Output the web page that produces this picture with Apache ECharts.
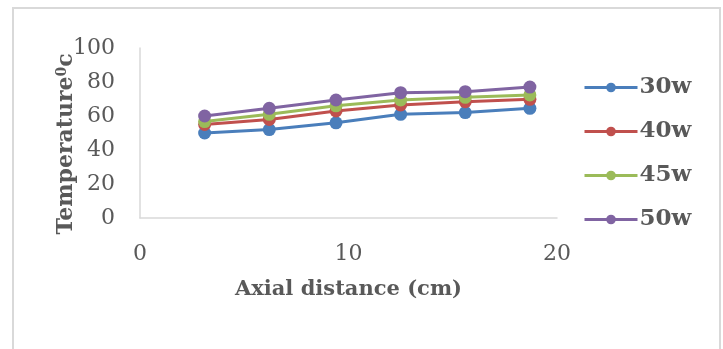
<!DOCTYPE html>
<html>
<head>
<meta charset="utf-8">
<script src="https://cdn.jsdelivr.net/npm/echarts@6/dist/echarts.min.js"></script>
<style>
html,body{margin:0;padding:0;background:#fff;}
#chart{width:723px;height:349px;}
</style>
</head>
<body>
<div id="chart"></div>
<script>
const xValues = [3.1, 6.2, 9.4, 12.5, 15.6, 18.7];
const seriesNames = ['30w', '40w', '45w', '50w'];
const s30 = [50, 52, 56, 61, 62, 64.5];
const s40 = [55, 58, 63, 66.5, 68.4, 69.8];
const s45 = [56.7, 61, 66, 69.4, 71, 72.4];
const s50 = [60, 64.5, 69.4, 73.7, 74.3, 77];
const colors = ['#4A7EBB', '#C0504D', '#9BBB59', '#8064A2'];
const xTitle = 'Axial distance (cm)';
const yTitle = 'Temperature';

const allData = [s30, s40, s45, s50];
const chart = echarts.init(document.getElementById('chart'));
const serif = 'DejaVu Serif';

chart.setOption({
  animation: false,
  backgroundColor: '#fff',
  grid: { left: 140, right: 166, top: 48, bottom: 131 },
  legend: {
    orient: 'vertical',
    left: 578,
    top: 71,
    itemGap: 21,
    itemWidth: 53,
    itemHeight: 12,
    data: seriesNames,
    lineStyle: { width: 3 },
    textStyle: { fontFamily: serif, fontSize: 23, fontWeight: 'bold', color: '#595959', padding: [0, 0, 0, -3] }
  },
  xAxis: {
    type: 'value', min: 0, max: 20, interval: 10,
    axisLine: { show: true, lineStyle: { color: '#D9D9D9', width: 1.5 } },
    axisTick: { show: false },
    splitLine: { show: false },
    axisLabel: { margin: 25, fontFamily: serif, fontSize: 22, color: '#595959' },
    name: xTitle, nameLocation: 'middle', nameGap: 61,
    nameTextStyle: { fontFamily: serif, fontSize: 21, fontWeight: 'bold', color: '#595959' }
  },
  yAxis: {
    type: 'value', min: 0, max: 100, interval: 20,
    axisLine: { show: true, lineStyle: { color: '#D9D9D9', width: 1.5 } },
    axisTick: { show: false },
    splitLine: { show: false },
    axisLabel: { margin: 25, fontFamily: serif, fontSize: 22, color: '#595959' }
  },
  graphic: [
    { type: 'rect', shape: { x: 13, y: 8, width: 707, height: 360 }, style: { fill: 'none', stroke: '#D9D9D9', lineWidth: 2 }, silent: true },
    {
      type: 'text', x: 66, y: 144, rotation: Math.PI / 2,
      style: {
        text: yTitle + '{sup|0}c',
        fontFamily: serif, fontSize: 22, fontWeight: 'bold', fill: '#595959',
        align: 'center', verticalAlign: 'middle',
        rich: { sup: { fontFamily: serif, fontSize: 14, fontWeight: 'bold', fill: '#595959', verticalAlign: 'top', padding: [0, 0, 8, 0] } }
      }
    }
  ],
  series: seriesNames.map((n, i) => ({
    name: n,
    type: 'line',
    data: xValues.map((x, j) => [x, allData[i][j]]),
    symbol: 'circle',
    symbolSize: 13,
    lineStyle: { width: 3, color: colors[i] },
    itemStyle: { color: colors[i] },
    z: 2 + i
  }))
});
</script>
</body>
</html>
